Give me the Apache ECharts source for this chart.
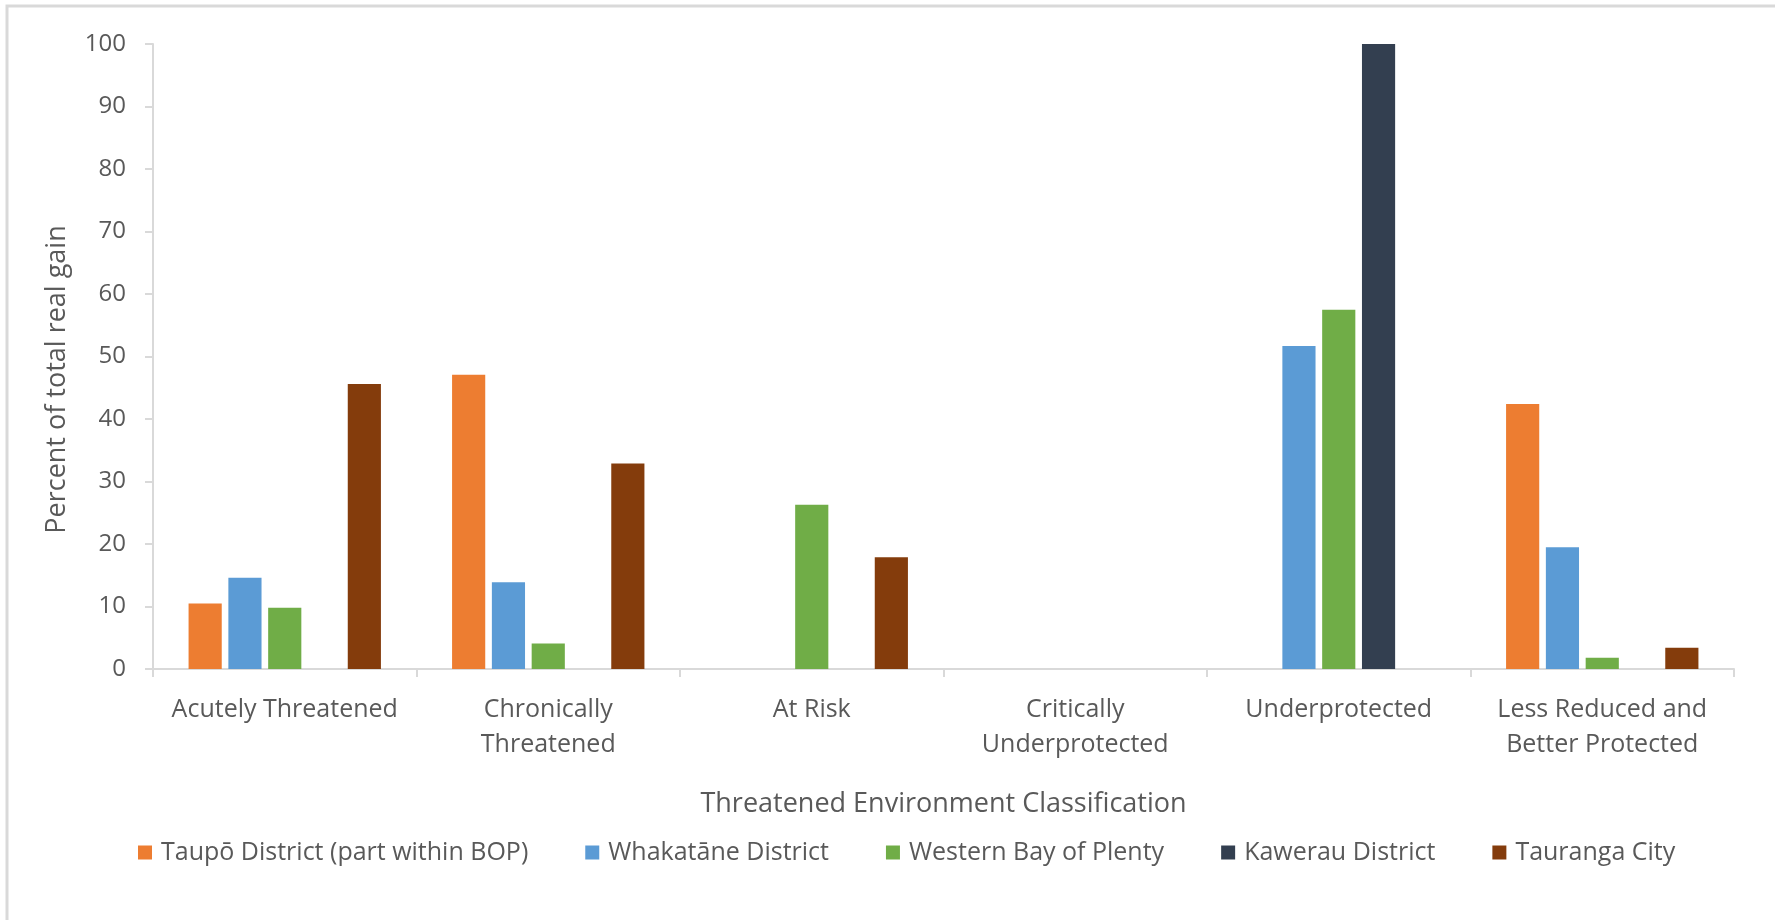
<!DOCTYPE html>
<html>
<head>
<meta charset="utf-8">
<title>Percent of total real gain by Threatened Environment Classification</title>
<script src="https://cdn.jsdelivr.net/npm/echarts@6/dist/echarts.min.js"></script>
<style>
  html, body { margin: 0; padding: 0; background: #ffffff; }
  #chart { width: 1775px; height: 920px; }
</style>
</head>
<body>
<div id="chart"></div>
<script>
// Threatened Environment Classification categories
const categories = [
  'Acutely Threatened',
  'Chronically\nThreatened',
  'At Risk',
  'Critically\nUnderprotected',
  'Underprotected',
  'Less Reduced and\nBetter Protected'
];

// Percent of total real gain, per district
const taupo      = [10.5, 47.1, 0, 0, 0, 42.4];
const whakatane  = [14.6, 13.9, 0, 0, 51.7, 19.5];
const westernBay = [9.8, 4.1, 26.3, 0, 57.5, 1.8];
const kawerau    = [0, 0, 0, 0, 100, 0];
const tauranga   = [45.6, 32.9, 17.9, 0, 0, 3.4];

const seriesNames = [
  'Taupō District (part within BOP)',
  'Whakatāne District',
  'Western Bay of Plenty',
  'Kawerau District',
  'Tauranga City'
];
const seriesValues = [taupo, whakatane, westernBay, kawerau, tauranga];
const colors = ['#ED7D31', '#5B9BD5', '#70AD47', '#333F50', '#843C0C'];

const FONT = '"Open Sans", "Noto Sans", sans-serif';
const TEXT = '#595959';
const LINE = '#d9d9d9';

const chart = echarts.init(document.getElementById('chart'), null, { renderer: 'canvas' });

chart.setOption({
  animation: false,
  backgroundColor: '#ffffff',
  color: colors,
  textStyle: { fontFamily: FONT },
  graphic: [{
    type: 'rect',
    shape: { x: 7, y: 6, width: 1800, height: 1000 },
    style: { fill: 'none', stroke: LINE, lineWidth: 3 },
    silent: true,
    z: -1
  }],
  grid: { left: 153, right: 41, top: 44, bottom: 251, containLabel: false },
  legend: {
    bottom: 50,
    left: 133,
    itemWidth: 14,
    itemHeight: 14,
    itemGap: 57,
    icon: 'rect',
    textStyle: { fontFamily: FONT, fontSize: 25, color: TEXT, padding: [0, 0, 0, 4] },
    data: seriesNames
  },
  xAxis: {
    type: 'category',
    data: categories,
    name: 'Threatened Environment Classification',
    nameLocation: 'middle',
    nameGap: 122,
    nameTextStyle: { fontFamily: FONT, fontSize: 27, color: TEXT },
    axisLine: { show: true, lineStyle: { color: LINE, width: 2 } },
    axisTick: { show: true, length: 8, lineStyle: { color: LINE, width: 2 } },
    axisLabel: {
      interval: 0,
      margin: 23,
      fontFamily: FONT,
      fontSize: 25,
      lineHeight: 35,
      color: TEXT
    },
    splitLine: { show: false }
  },
  yAxis: {
    type: 'value',
    min: 0,
    max: 100,
    interval: 10,
    name: 'Percent of total real gain',
    nameLocation: 'middle',
    nameGap: 82,
    nameRotate: 90,
    nameTextStyle: { fontFamily: FONT, fontSize: 27, color: TEXT, padding: [0, 46, 0, 0] },
    axisLine: { show: true, lineStyle: { color: LINE, width: 2 } },
    axisTick: { show: true, length: 8, lineStyle: { color: LINE, width: 2 } },
    axisLabel: { margin: 27, fontFamily: FONT, fontSize: 24, color: TEXT },
    splitLine: { show: false }
  },
  series: seriesNames.map((name, i) => ({
    name: name,
    type: 'bar',
    data: seriesValues[i],
    barGap: '20%',
    barCategoryGap: '27%',
    itemStyle: { color: colors[i] }
  }))
});
</script>
</body>
</html>
